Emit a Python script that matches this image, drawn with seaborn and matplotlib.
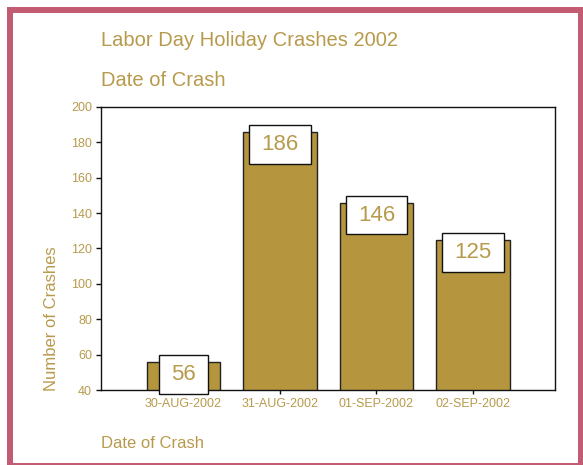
import matplotlib
matplotlib.use("Agg")
import matplotlib.pyplot as plt
from matplotlib.patches import Rectangle
import seaborn as sns

# Data
dates = ["30-AUG-2002", "31-AUG-2002", "01-SEP-2002", "02-SEP-2002"]
crashes = [56, 186, 146, 125]

GOLD = "#B5963E"
TEXT = "#B89A4C"
BORDER = "#C25C72"

sns.set_style("white")
plt.rcParams["font.family"] = ["Liberation Sans", "DejaVu Sans"]

fig = plt.figure(figsize=(5.83, 4.65), dpi=100)
ax = fig.add_axes([101 / 583, 75 / 465, 454 / 583, 283 / 465])

sns.barplot(x=dates, y=crashes, ax=ax, color=GOLD, saturation=1,
            width=0.76, edgecolor="#222222", linewidth=1.0)

ax.set_ylim(40, 200)
ax.set_xlim(-0.855, 3.85)
ax.set_yticks(range(40, 201, 20))

for s in ax.spines.values():
    s.set_color("#111111")
    s.set_linewidth(1.0)

ax.tick_params(axis="both", colors="#111111", labelcolor=TEXT, labelsize=9,
               length=3.5, width=1, direction="out", pad=3)
ax.tick_params(axis="x", bottom=True, length=3)
ax.tick_params(axis="y", left=True)

# value boxes on top of bars
for i, v in enumerate(crashes):
    ax.annotate(f"{v}", xy=(i, v), xytext=(0, -9), textcoords="offset points",
                ha="center", va="center", fontsize=16, color=TEXT,
                bbox=dict(boxstyle="square,pad=0.55", mutation_aspect=0.73,
                          fc="white", ec="#111111", lw=1.0),
                annotation_clip=False, zorder=5)

ax.set_xlabel("")
ax.set_ylabel("")

fig.text(101 / 583, 1 - 41 / 465, "Labor Day Holiday Crashes 2002", fontsize=14.5,
         color=TEXT, ha="left", va="center")
fig.text(101 / 583, 1 - 80 / 465, "Date of Crash", fontsize=14.5,
         color=TEXT, ha="left", va="center")
fig.text(101 / 583, 1 - 443 / 465, "Date of Crash", fontsize=12,
         color=TEXT, ha="left", va="center")
fig.text(52 / 583, 1 - 319 / 465, "Number of Crashes", fontsize=12, rotation=90,
         color=TEXT, ha="center", va="center")

# page border
W, H = 583, 465
for x0, y0, w, h in [(7, 0, 6, H - 7), (7, H - 13, W, 6), (578, 0, 6, H - 7), (7, 0, W, 2.5)]:
    fig.patches.append(Rectangle((x0 / W, y0 / H), w / W, h / H, transform=fig.transFigure,
                                 facecolor=BORDER, edgecolor="none", zorder=10))

fig.savefig("out.png", dpi=100)
